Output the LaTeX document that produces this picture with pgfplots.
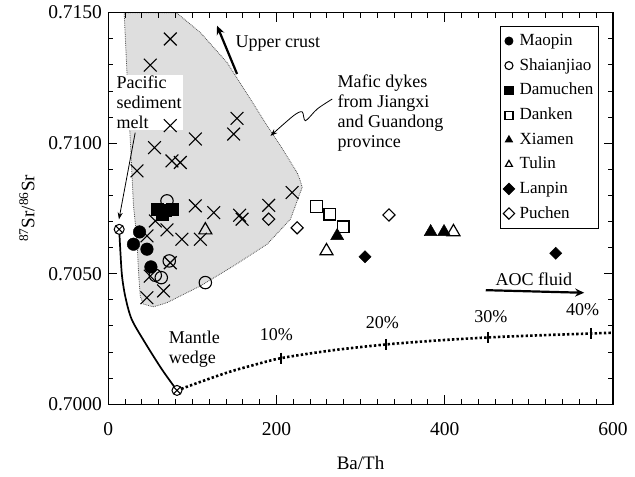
\documentclass[border=0pt]{standalone}
\usepackage{fontspec}
\setmainfont{Liberation Serif}
\usepackage{pgfplots}
\pgfplotsset{compat=1.18}
\usetikzlibrary{arrows.meta}
\begin{document}
\fontsize{18}{21}\selectfont
\begin{tikzpicture}
\begin{axis}[
  scale only axis, width=504pt, height=391pt,
  xmin=0, xmax=600, ymin=0.7, ymax=0.715,
  axis on top,
  xtick={0,200,400,600}, minor x tick num=9,
  ytick={0.700,0.705,0.710,0.715}, minor y tick num=4,
  major tick length=9pt, minor tick length=5pt,
  every tick/.style={black, line width=0.9pt},
  axis line style={line width=1.1pt},
  tick label style={font=\fontsize{19.5}{22}\selectfont},
  /pgf/number format/assume math mode=true,
  /pgf/number format/1000 sep={},
  scaled y ticks=false,
  xticklabel style={yshift=-12pt},
  yticklabel style={/pgf/number format/.cd, fixed, fixed zerofill, precision=4},
  xlabel={Ba/Th},
  ylabel={\textsuperscript{87}Sr/\textsuperscript{86}Sr},
  label style={font=\fontsize{19}{22}\selectfont},
  xlabel style={at={(axis description cs:0.5,-0.15)}, anchor=center},
  ylabel style={at={(axis description cs:-0.161,0.5)}, anchor=center},
  legend style={at={(0.972,0.967)}, anchor=north east, draw=black, line width=0.9pt,
    font=\fontsize{17}{20}\selectfont, row sep=6.3pt, inner xsep=3pt, inner ysep=6pt,
    /tikz/every odd column/.append style={column sep=3pt}},
  legend cell align=left,
  legend image post style={mark size=4pt},
]
% mafic dyke field
\addplot[forget plot, fill=gray!26, draw=black!70, densely dotted, line width=0.8pt] coordinates {
 (19,0.7150) (22.3,0.71271) (26.2,0.71017) (30.1,0.7076) (34.2,0.70633) (36.1,0.70504)
 (38.1,0.70414) (41.7,0.70384) (53.6,0.70373) (69.9,0.70389) (109.5,0.70453) (149.2,0.7053)
 (188.9,0.70613) (216.7,0.70709) (227,0.70800) (230.6,0.7083) (228,0.70860) (224.6,0.70887)
 (204.8,0.7099) (188.9,0.71067) (169,0.71169) (141.3,0.71309) (109.5,0.71424) (81,0.7150)
} -- cycle;
% sediment melt - mantle wedge curve
\addplot[forget plot, smooth, line width=1.7pt] coordinates {
 (13.1,0.7067) (14.6,0.7058) (16.5,0.7049) (20.5,0.7041) (28,0.70325) (44,0.70235) (64,0.70133) (81.8,0.70053)};
% AOC fluid mixing curve
\addplot[forget plot, smooth, line width=2.6pt, dash pattern=on 2.4pt off 2.2pt] coordinates {
 (81.8,0.70053) (115,0.70092) (145,0.70125) (175,0.70152) (206,0.70177) (265,0.70206)
 (330,0.70229) (390,0.70244) (452,0.70256) (512,0.70264) (574,0.70271) (600,0.70274)};
\addplot[forget plot, only marks, mark=|, mark size=5.5pt, mark options={line width=2pt}] coordinates {
 (206,0.70177) (330,0.70229) (452,0.70256) (574,0.70271)};
\addplot[forget plot, only marks, mark=otimes*, mark size=5pt, mark options={fill=white, line width=1pt}] coordinates {
 (13.1,0.7067) (81.8,0.70053)};
% mafic dykes (crosses)
\addplot[forget plot, only marks, mark=x, mark size=9pt, mark options={line width=1.1pt}] coordinates {
 (73.8,0.71399) (50,0.71299) (73.8,0.71067) (153.2,0.71095) (149.2,0.71035) (103.6,0.71016)
 (55.1,0.70983) (75.8,0.70932) (85.7,0.70926) (34.2,0.70894) (218.7,0.70811) (103.6,0.7076)
 (125.4,0.70734) (156.3,0.70724) (159.2,0.70709) (190.8,0.70762) (56,0.70702) (69.9,0.70668)
 (46.1,0.70645) (87.7,0.70632) (109.5,0.70632) (73.8,0.70542) (50,0.70491) (46.1,0.70408) (65.8,0.70434)};
% samples
\addplot[only marks, mark=*, mark size=6.3pt, black] coordinates {
 (37.3,0.7066) (30.1,0.70613) (46.1,0.70594) (50.8,0.70526)};
\addlegendentry{Maopin}
\addplot[only marks, mark=o, mark size=6.2pt, black, mark options={line width=1.1pt}] coordinates {
 (69.9,0.70779) (72.6,0.70549) (56,0.70494) (63.1,0.70485) (115.5,0.70466)};
\addlegendentry{Shaianjiao}
\addplot[only marks, mark=square*, mark size=6.2pt, black] coordinates {
 (58.3,0.70748) (67.9,0.70744) (76.2,0.70748) (64.3,0.70729)};
\addlegendentry{Damuchen}
\addplot[only marks, mark=square, mark size=5.8pt, black, mark options={line width=1.2pt}] coordinates {
 (247.6,0.70757) (263.5,0.70728) (279.4,0.7068)};
\addlegendentry{Danken}
\addplot[only marks, mark=triangle*, mark size=7.5pt, black] coordinates {
 (272.2,0.70645) (383.3,0.7066) (399.2,0.7066)};
\addlegendentry{Xiamen}
\addplot[only marks, mark=triangle, mark size=7.5pt, black, mark options={line width=1.2pt}] coordinates {
 (115.5,0.70667) (259.5,0.70587) (410.4,0.7066)};
\addlegendentry{Tulin}
\addplot[only marks, mark=square*, mark size=4.3pt, black, mark options={rotate=45}] coordinates {
 (305.2,0.70565) (532,0.70578)};
\addlegendentry{Lanpin}
\addplot[only marks, mark=square, mark size=4.3pt, black, mark options={rotate=45, line width=1.1pt}] coordinates {
 (333.7,0.70725) (190.8,0.70709) (224.6,0.70676)};
\addlegendentry{Puchen}
% annotations
\node[anchor=north west, align=left, fill=white, inner sep=1pt, font=\fontsize{18}{20}\selectfont]
  at (axis cs:8.5,0.71262) {Pacific\\sediment\\melt};
\draw[line width=0.8pt, -{Stealth[length=7pt,width=5pt]}] (axis cs:32.1,0.7104) -- (axis cs:12.8,0.70708);
\node[anchor=west, inner sep=0pt, font=\fontsize{18}{20}\selectfont] at (axis cs:151.2,0.71381) {Upper crust};
\draw[line width=2.2pt, -{Stealth[length=9pt,width=8pt]}] (axis cs:153.2,0.71265) -- (axis cs:129.4,0.7145);
\node[anchor=north west, align=left, inner sep=0pt, font=\fontsize{18}{20}\selectfont]
  at (axis cs:272.6,0.71262) {Mafic dykes\\from Jiangxi\\and Guandong\\province};
\draw[line width=0.8pt, -{Stealth[length=7pt,width=5pt]}] plot[smooth] coordinates {
 (axis cs:266.3,0.71169) (axis cs:248.5,0.71131) (axis cs:234.5,0.71086) (axis cs:230.6,0.7112)
 (axis cs:220.2,0.71105) (axis cs:192.9,0.71028)};
\node[anchor=north west, align=left, inner sep=0pt, font=\fontsize{18}{20}\selectfont]
  at (axis cs:71.8,0.7028) {Mantle\\wedge};
\node[font=\fontsize{18}{20}\selectfont] at (axis cs:200,0.70265) {10\%};
\node[font=\fontsize{18}{20}\selectfont] at (axis cs:326,0.70312) {20\%};
\node[font=\fontsize{18}{20}\selectfont] at (axis cs:455,0.70337) {30\%};
\node[font=\fontsize{18}{20}\selectfont] at (axis cs:564,0.70362) {40\%};
\node[font=\fontsize{18}{20}\selectfont] at (axis cs:506,0.7048) {AOC fluid};
\draw[line width=2.2pt, -{Stealth[length=9pt,width=8pt]}] (axis cs:448.8,0.70437) -- (axis cs:565.8,0.70427);
\end{axis}
\path ([shift={(-108pt,-72pt)}]current axis.south west) rectangle ([shift={(22pt,7pt)}]current axis.north east);
\end{tikzpicture}
\end{document}
